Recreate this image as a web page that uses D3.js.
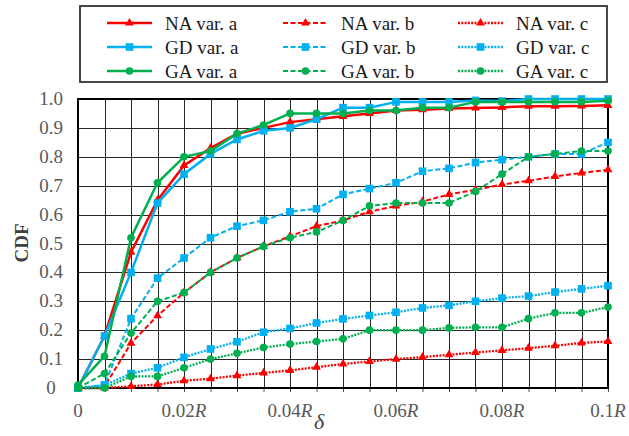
<!DOCTYPE html>
<html><head><meta charset="utf-8">
<script src="https://cdn.jsdelivr.net/npm/d3@7"></script>
<style>
html,body{margin:0;padding:0;background:#fff;}
svg{display:block;font-family:"Liberation Serif","Times New Roman",serif;}
</style></head>
<body><svg id="c" width="629" height="436"></svg>
<script>
const deltas = [0,0.005,0.01,0.015,0.02,0.025,0.03,0.035,0.04,0.045,0.05,0.055,0.06,0.065,0.07,0.075,0.08,0.085,0.09,0.095,0.1];
const naA = [0,0.18,0.47,0.65,0.77,0.83,0.88,0.90,0.92,0.93,0.94,0.95,0.96,0.963,0.967,0.969,0.971,0.975,0.975,0.976,0.978];
const naB = [0,0.005,0.155,0.25,0.33,0.40,0.45,0.49,0.525,0.56,0.58,0.61,0.63,0.645,0.67,0.686,0.704,0.717,0.732,0.744,0.755];
const naC = [0,0,0.006,0.012,0.025,0.032,0.043,0.052,0.061,0.072,0.083,0.092,0.10,0.107,0.115,0.123,0.13,0.138,0.146,0.156,0.161];
const gdA = [0,0.18,0.40,0.64,0.74,0.81,0.86,0.89,0.90,0.93,0.97,0.97,0.99,0.99,0.99,0.995,0.993,1.0,1.0,1.0,1.0];
const gdB = [0,0.01,0.24,0.38,0.45,0.52,0.56,0.58,0.61,0.62,0.67,0.69,0.71,0.75,0.76,0.78,0.79,0.80,0.81,0.81,0.85];
const gdC = [0,0.01,0.05,0.07,0.106,0.135,0.16,0.193,0.206,0.225,0.239,0.251,0.262,0.277,0.286,0.30,0.311,0.318,0.332,0.343,0.354];
const gaA = [0.01,0.11,0.52,0.71,0.80,0.82,0.88,0.91,0.95,0.95,0.95,0.96,0.96,0.97,0.97,0.99,0.99,0.99,0.99,0.99,0.994];
const gaB = [0,0.05,0.19,0.30,0.33,0.40,0.45,0.49,0.52,0.54,0.58,0.63,0.64,0.64,0.64,0.68,0.74,0.80,0.81,0.82,0.82];
const gaC = [0,0,0.04,0.04,0.07,0.10,0.12,0.14,0.152,0.161,0.17,0.20,0.20,0.20,0.208,0.21,0.21,0.24,0.26,0.26,0.28];
const seriesNames = ["NA var. a","NA var. b","NA var. c","GD var. a","GD var. b","GD var. c","GA var. a","GA var. b","GA var. c"];
const yTicks = [0,0.1,0.2,0.3,0.4,0.5,0.6,0.7,0.8,0.9,1.0];
const yTickLabels = ["0","0.1","0.2","0.3","0.4","0.5","0.6","0.7","0.8","0.9","1.0"];
const xLabelTicks = [0,0.02,0.04,0.06,0.08,0.1];
const xTickLabels = ["0","0.02","0.04","0.06","0.08","0.1"];

const values = [naA,naB,naC,gdA,gdB,gdC,gaA,gaB,gaC];
const colors = {NA:"#FF0000", GD:"#00B0F0", GA:"#00B050"};
const shapes = {NA:d3.symbolTriangle, GD:d3.symbolSquare, GA:d3.symbolCircle};
const sizes = {NA:34, GD:58, GA:46};
const dashes = {a:null, b:"5,2.5", c:"2,1.3"};
const widths = {a:2.5, b:2, c:2.3};

const series = seriesNames.map((n,i)=>{
  const m = n.split(" ");
  return {name:n, grp:m[0], v:m[2][0], vals:values[i]};
});

const svg = d3.select("#c");
const L=78, R=608, T=99, B=388;
const x = d3.scaleLinear().domain([0,0.1]).range([L,R]);
const y = d3.scaleLinear().domain([0,1]).range([B,T]);

// grid
const g = svg.append("g");
g.selectAll("line.v").data(deltas).enter().append("line")
  .attr("x1",d=>Math.round(x(d))+0.5).attr("x2",d=>Math.round(x(d))+0.5)
  .attr("y1",T).attr("y2",B).attr("stroke","#262626").attr("stroke-width",1);
g.selectAll("line.h").data(yTicks).enter().append("line")
  .attr("y1",d=>Math.round(y(d))+0.5).attr("y2",d=>Math.round(y(d))+0.5)
  .attr("x1",L).attr("x2",R).attr("stroke","#262626").attr("stroke-width",1);

// x tick marks
const xAxis = d3.axisBottom(x).tickValues(deltas).tickSize(4).tickFormat("");
const xa = svg.append("g").attr("transform",`translate(0,${B})`).call(xAxis);
xa.select(".domain").remove();
xa.selectAll("line").attr("stroke","#555");

// frame
svg.append("rect").attr("x",L).attr("y",T).attr("width",R-L).attr("height",B-T)
  .attr("fill","none").attr("stroke","#000").attr("stroke-width",2);

// y labels
svg.append("g").selectAll("text").data(yTicks).enter().append("text")
  .attr("x",51).attr("y",d=>y(d)+6).attr("text-anchor","middle")
  .attr("font-size",19).attr("fill","#595959").text((d,i)=>yTickLabels[i]);

// x labels
const xl = svg.append("g").selectAll("text").data(xLabelTicks).enter().append("text")
  .attr("x",d=>x(d)).attr("y",417).attr("text-anchor","middle")
  .attr("font-size",19).attr("fill","#595959");
xl.each(function(d,i){
  const t=d3.select(this);
  t.append("tspan").text(xTickLabels[i]);
  if(d!==0) t.append("tspan").attr("font-style","italic").text("R");
});

// axis titles
svg.append("text").attr("transform","translate(28,243) rotate(-90)")
  .attr("text-anchor","middle").attr("font-size",19).attr("font-weight","bold")
  .attr("fill","#404040").text("CDF");
svg.append("text").attr("x",319).attr("y",429).attr("text-anchor","middle")
  .attr("font-size",22).attr("font-style","italic").attr("fill","#404040").text("δ");

// series
const line = d3.line().x((d,i)=>x(deltas[i])).y(d=>y(d));
const sg = svg.append("g");
series.forEach(s=>{
  sg.append("path").datum(s.vals).attr("d",line).attr("fill","none")
    .attr("stroke",colors[s.grp]).attr("stroke-width",widths[s.v])
    .attr("stroke-dasharray",dashes[s.v]);
  sg.append("g").selectAll("path").data(s.vals).enter().append("path")
    .attr("transform",(d,i)=>`translate(${x(deltas[i])},${y(d)})`)
    .attr("d",d3.symbol().type(shapes[s.grp]).size(sizes[s.grp]))
    .attr("fill",colors[s.grp]);
});

// legend
const lg = svg.append("g");
lg.append("rect").attr("x",80).attr("y",6).attr("width",527).attr("height",76)
  .attr("fill","#fff").attr("stroke","#333").attr("stroke-width",1.8);
const colX = {a:107, b:283, c:458};
const rowY = {NA:23, GD:47, GA:71};
series.forEach(s=>{
  const cx = colX[s.v], cy = rowY[s.grp];
  lg.append("line").attr("x1",cx).attr("x2",cx+45).attr("y1",cy).attr("y2",cy)
    .attr("stroke",colors[s.grp]).attr("stroke-width",widths[s.v])
    .attr("stroke-dasharray",dashes[s.v]);
  lg.append("path").attr("transform",`translate(${cx+22.5},${cy})`)
    .attr("d",d3.symbol().type(shapes[s.grp]).size(sizes[s.grp]))
    .attr("fill",colors[s.grp]);
  lg.append("text").attr("x",cx+58).attr("y",cy+6.5).attr("font-size",19)
    .attr("fill","#1a1a1a").text(s.name);
});
</script></body></html>
